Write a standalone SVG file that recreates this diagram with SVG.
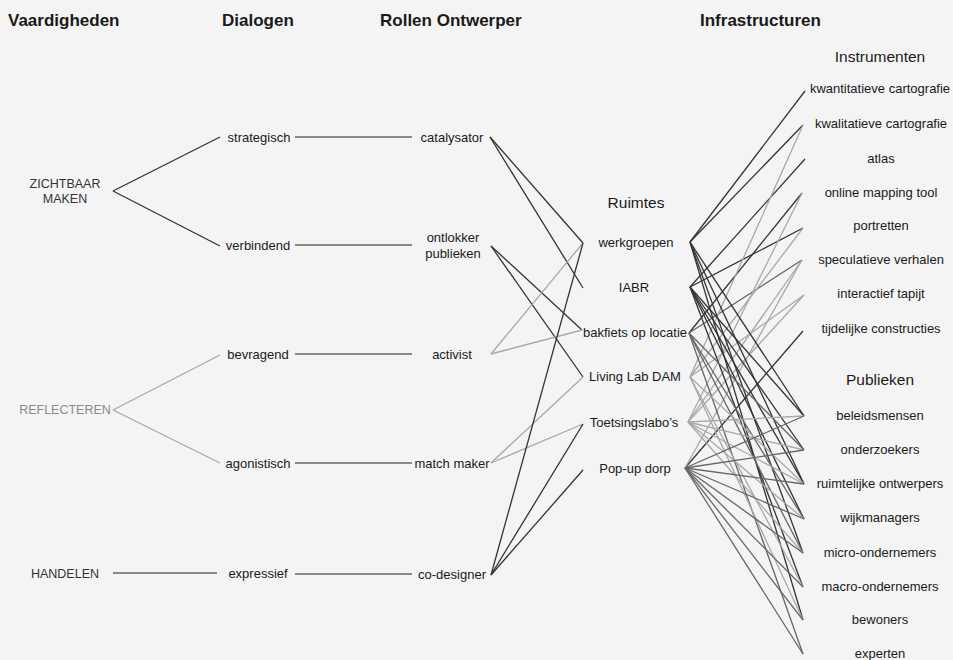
<svg xmlns="http://www.w3.org/2000/svg" width="953" height="660" viewBox="0 0 953 660">
<style>
text{font-family:"Liberation Sans",Arial,sans-serif;fill:#1a1a1a}
.h{font-size:17px;font-weight:bold}
.t{font-size:13px;text-anchor:middle}
.s{font-size:12.5px;text-anchor:middle;fill:#333}
.g{fill:#8a8a8a}
.sub{font-size:15.5px;text-anchor:middle}
.c line{stroke-width:1.3;fill:none}
.d{stroke:#333}
.m{stroke:#666}
.l{stroke:#a8a8a8}
</style>
<rect width="953" height="660" fill="#f4f4f4"/>
<g id="headers">
<text class="h" x="8" y="26">Vaardigheden</text>
<text class="h" x="222" y="26">Dialogen</text>
<text class="h" x="380" y="26">Rollen Ontwerper</text>
<text class="h" x="700" y="26">Infrastructuren</text>
<text class="sub" x="880" y="62">Instrumenten</text>
<text class="sub" x="636" y="208">Ruimtes</text>
<text class="sub" x="880" y="385">Publieken</text>
</g>
<g class="c" id="connectors">
<line class="d" x1="113" y1="191" x2="220" y2="137"/>
<line class="d" x1="113" y1="191" x2="220" y2="246"/>
<line class="l" x1="113" y1="410" x2="220" y2="355"/>
<line class="l" x1="113" y1="410" x2="220" y2="463"/>
<line class="m" x1="113" y1="573" x2="217" y2="573"/>
<line class="m" x1="295" y1="137" x2="412" y2="137"/>
<line class="m" x1="295" y1="245" x2="412" y2="245"/>
<line class="m" x1="295" y1="354" x2="412" y2="354"/>
<line class="m" x1="295" y1="463" x2="412" y2="463"/>
<line class="m" x1="295" y1="574" x2="412" y2="574"/>
<line class="d" x1="490" y1="137" x2="583" y2="243"/>
<line class="d" x1="490" y1="137" x2="583" y2="288"/>
<line class="d" x1="491" y1="246" x2="582" y2="330"/>
<line class="d" x1="491" y1="246" x2="583" y2="377"/>
<line class="l" x1="491" y1="354" x2="583" y2="243"/>
<line class="l" x1="491" y1="354" x2="582" y2="330"/>
<line class="l" x1="491" y1="463" x2="583" y2="377"/>
<line class="l" x1="491" y1="463" x2="583" y2="424"/>
<line class="d" x1="491" y1="575" x2="583" y2="243"/>
<line class="d" x1="491" y1="575" x2="583" y2="424"/>
<line class="d" x1="491" y1="575" x2="583" y2="470"/>
<line class="d" x1="690" y1="242" x2="805" y2="91"/>
<line class="d" x1="690" y1="242" x2="803" y2="125"/>
<line class="d" x1="690" y1="287" x2="805" y2="159"/>
<line class="d" x1="690" y1="287" x2="803" y2="228"/>
<line class="d" x1="689" y1="333" x2="802" y2="193"/>
<line class="m" x1="689" y1="333" x2="802" y2="260"/>
<line class="l" x1="690" y1="377" x2="803" y2="125"/>
<line class="l" x1="690" y1="377" x2="803" y2="228"/>
<line class="l" x1="690" y1="377" x2="804" y2="295"/>
<line class="l" x1="688" y1="422" x2="802" y2="193"/>
<line class="l" x1="688" y1="422" x2="802" y2="260"/>
<line class="l" x1="688" y1="422" x2="804" y2="295"/>
<line class="d" x1="685" y1="468" x2="803" y2="331"/>
<line class="l" x1="685" y1="468" x2="802" y2="260"/>
<line class="d" x1="690" y1="242" x2="804" y2="416"/>
<line class="d" x1="690" y1="242" x2="804" y2="484"/>
<line class="d" x1="690" y1="242" x2="803" y2="553"/>
<line class="d" x1="690" y1="242" x2="803" y2="620"/>
<line class="d" x1="690" y1="287" x2="804" y2="416"/>
<line class="d" x1="690" y1="287" x2="804" y2="450"/>
<line class="d" x1="690" y1="287" x2="804" y2="484"/>
<line class="d" x1="690" y1="287" x2="804" y2="519"/>
<line class="d" x1="690" y1="287" x2="803" y2="587"/>
<line class="m" x1="689" y1="333" x2="804" y2="450"/>
<line class="m" x1="689" y1="333" x2="804" y2="519"/>
<line class="m" x1="689" y1="333" x2="803" y2="553"/>
<line class="m" x1="689" y1="333" x2="803" y2="654"/>
<line class="l" x1="690" y1="377" x2="804" y2="484"/>
<line class="l" x1="690" y1="377" x2="803" y2="587"/>
<line class="l" x1="690" y1="377" x2="803" y2="620"/>
<line class="l" x1="688" y1="422" x2="804" y2="416"/>
<line class="l" x1="688" y1="422" x2="804" y2="450"/>
<line class="l" x1="688" y1="422" x2="804" y2="484"/>
<line class="l" x1="688" y1="422" x2="804" y2="519"/>
<line class="l" x1="688" y1="422" x2="803" y2="553"/>
<line class="m" x1="685" y1="468" x2="804" y2="416"/>
<line class="m" x1="685" y1="468" x2="804" y2="450"/>
<line class="m" x1="685" y1="468" x2="804" y2="484"/>
<line class="m" x1="685" y1="468" x2="804" y2="519"/>
<line class="m" x1="685" y1="468" x2="803" y2="553"/>
<line class="m" x1="685" y1="468" x2="803" y2="587"/>
<line class="m" x1="685" y1="468" x2="803" y2="620"/>
<line class="m" x1="685" y1="468" x2="803" y2="654"/>
</g>
<g id="zichtbaar"><text class="s" x="65" y="188">ZICHTBAAR</text><text class="s" x="65" y="203">MAKEN</text></g>
<g id="reflecteren"><text class="s g" x="65" y="414">REFLECTEREN</text></g>
<g id="handelen"><text class="s" x="65" y="578">HANDELEN</text></g>
<g id="strategisch"><text class="t" x="259" y="142">strategisch</text></g>
<g id="verbindend"><text class="t" x="258" y="250">verbindend</text></g>
<g id="bevragend"><text class="t" x="258" y="359">bevragend</text></g>
<g id="agonistisch"><text class="t" x="258" y="468">agonistisch</text></g>
<g id="expressief"><text class="t" x="258" y="578">expressief</text></g>
<g id="catalysator"><text class="t" x="452" y="142">catalysator</text></g>
<g id="ontlokker"><text class="t" x="453" y="242">ontlokker</text><text class="t" x="453" y="258">publieken</text></g>
<g id="activist"><text class="t" x="452" y="359">activist</text></g>
<g id="matchmaker"><text class="t" x="452" y="468">match maker</text></g>
<g id="codesigner"><text class="t" x="452" y="579">co-designer</text></g>
<g id="werkgroepen"><text class="t" x="636" y="247">werkgroepen</text></g>
<g id="iabr"><text class="t" x="634" y="292">IABR</text></g>
<g id="bakfiets"><text class="t" x="635" y="337">bakfiets op locatie</text></g>
<g id="livinglab"><text class="t" x="635" y="381">Living Lab DAM</text></g>
<g id="toetsingslabos"><text class="t" x="634" y="427">Toetsingslabo’s</text></g>
<g id="popup"><text class="t" x="635" y="473">Pop-up dorp</text></g>
<g id="kwantitatieve"><text class="t" x="880" y="93">kwantitatieve cartografie</text></g>
<g id="kwalitatieve"><text class="t" x="881" y="128">kwalitatieve cartografie</text></g>
<g id="atlas"><text class="t" x="881" y="163">atlas</text></g>
<g id="onlinemapping"><text class="t" x="881" y="197">online mapping tool</text></g>
<g id="portretten"><text class="t" x="881" y="230">portretten</text></g>
<g id="speculatieve"><text class="t" x="881" y="264">speculatieve verhalen</text></g>
<g id="interactief"><text class="t" x="881" y="298">interactief tapijt</text></g>
<g id="tijdelijke"><text class="t" x="881" y="333">tijdelijke constructies</text></g>
<g id="beleidsmensen"><text class="t" x="880" y="420">beleidsmensen</text></g>
<g id="onderzoekers"><text class="t" x="880" y="454">onderzoekers</text></g>
<g id="ruimtelijke"><text class="t" x="880" y="488">ruimtelijke ontwerpers</text></g>
<g id="wijkmanagers"><text class="t" x="880" y="522">wijkmanagers</text></g>
<g id="micro"><text class="t" x="880" y="557">micro-ondernemers</text></g>
<g id="macro"><text class="t" x="880" y="591">macro-ondernemers</text></g>
<g id="bewoners"><text class="t" x="880" y="624">bewoners</text></g>
<g id="experten"><text class="t" x="880" y="658">experten</text></g>
</svg>
